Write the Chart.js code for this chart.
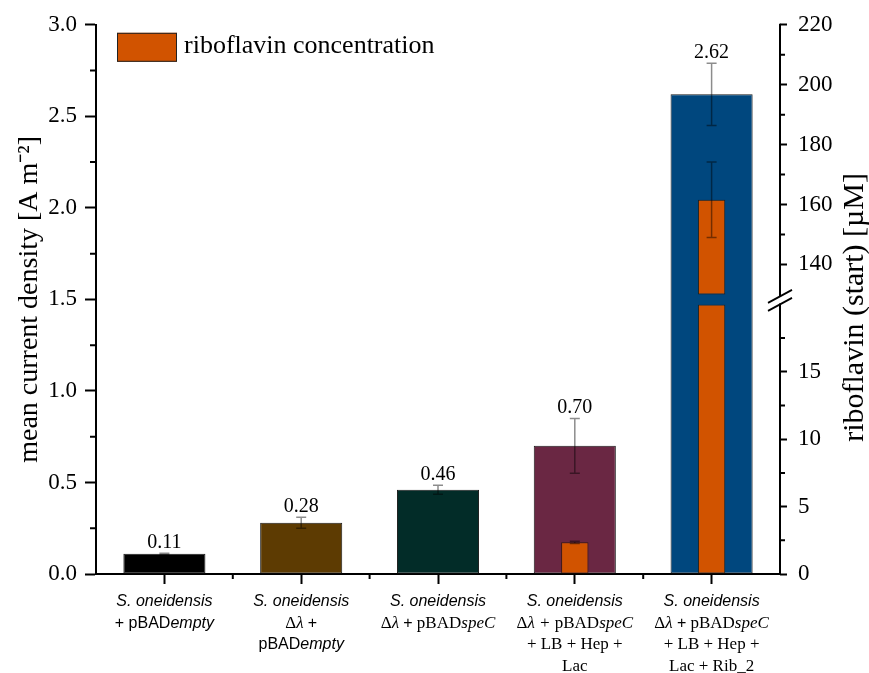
<!DOCTYPE html>
<html>
<head>
<meta charset="utf-8">
<title>Mean current density and riboflavin</title>
<script src="https://cdn.jsdelivr.net/npm/chart.js@4.4.1/dist/chart.umd.min.js"></script>
<style>
  html, body { margin: 0; background: #fff; }
  canvas { display: block; }
</style>
</head>
<body>
<canvas id="chart" width="869" height="673"></canvas>
<script>
// condition labels, one string per line: [..] = sans-serif, *..* = italic
const categories = [
  ['[*S. oneidensis*]', '[+ pBAD*empty*]'],
  ['[*S. oneidensis*]', 'Δ*λ* [+]', '[pBAD*empty*]'],
  ['[*S. oneidensis*]', 'Δ*λ* [+] pBAD*speC*'],
  ['[*S. oneidensis*]', 'Δ*λ* *+* pBAD*speC*', '+ LB + Hep +', 'Lac'],
  ['[*S. oneidensis*]', 'Δ*λ* [+] pBAD*speC*', '+ LB + Hep +', 'Lac + Rib_2']
];

const currentDensity = [0.11, 0.28, 0.46, 0.70, 2.62];
const currentError = [0.004, 0.03, 0.025, 0.15, 0.17];
const riboflavin = [null, null, null, 2.35, 161.6];
const riboflavinError = [null, null, null, 0.08, 12.6];

const currentTicks = [0, 0.5, 1, 1.5, 2, 2.5, 3];
const currentMinorTicks = [0.25, 0.75, 1.25, 1.75, 2.25, 2.75];
const ribLowTicks = [0, 5, 10, 15];
const ribLowMinorTicks = [2.5, 7.5, 12.5, 17.5];
const ribHighTicks = [140, 160, 180, 200, 220];
const ribHighMinorTicks = [150, 170, 190, 210];
const ribLowRange = [0, 20];
const ribHighRange = [130, 220];

const barColors = ['#000000', '#5d3b02', '#022c28', '#6a2743', '#00477e'];
const ribColor = '#d15300';
const serif = '"Liberation Serif", "Times New Roman", serif';
const sans = '"Liberation Sans", Arial, sans-serif';

// right axis is split: upper part (incl. the gap) and lower part share the height
const BREAK_GAP = 10;
const HIGH_WEIGHT = 280;
const LOW_WEIGHT = 270;
const ribHighMin = ribHighRange[0] - (ribHighRange[1] - ribHighRange[0]) * BREAK_GAP / (HIGH_WEIGHT - BREAK_GAP);

const ribLowBars = riboflavin.map(v => v == null ? null : [ribLowRange[0], Math.min(v, ribLowRange[1])]);
const ribHighBars = riboflavin.map(v => v != null && v > ribHighRange[0] ? [ribHighRange[0], v] : null);

function parseLine(line) {
  const segs = [];
  let isSans = false, italic = false, buf = '';
  const flush = () => { if (buf) segs.push({ text: buf, isSans, italic }); buf = ''; };
  for (const ch of line) {
    if (ch === '[') { flush(); isSans = true; }
    else if (ch === ']') { flush(); isSans = false; }
    else if (ch === '*') { flush(); italic = !italic; }
    else buf += ch;
  }
  flush();
  return segs;
}

function segFont(seg) {
  return (seg.italic ? 'italic ' : '') + (seg.isSans ? '16px ' + sans : '17px ' + serif);
}

const errorBars = {
  id: 'errorBars',
  afterDatasetsDraw(chart) {
    const { ctx, scales } = chart;
    const bar = (x, y0, y1) => {
      ctx.beginPath();
      ctx.moveTo(x, y0); ctx.lineTo(x, y1);
      ctx.moveTo(x - 5, y0); ctx.lineTo(x + 5, y0);
      ctx.moveTo(x - 5, y1); ctx.lineTo(x + 5, y1);
      ctx.stroke();
    };
    ctx.save();
    ctx.strokeStyle = 'rgba(0,0,0,0.45)';
    ctx.lineWidth = 1.5;
    riboflavin.forEach((v, i) => {
      if (v == null) return;
      const axis = v > ribHighRange[0] ? scales.yRibHigh : scales.yRibLow;
      const x = scales.x.getPixelForValue(i);
      bar(x, axis.getPixelForValue(v - riboflavinError[i]), axis.getPixelForValue(v + riboflavinError[i]));
    });
    ctx.fillStyle = '#000';
    ctx.font = '20px ' + serif;
    ctx.textAlign = 'center';
    ctx.textBaseline = 'alphabetic';
    currentDensity.forEach((v, i) => {
      const x = scales.x.getPixelForValue(i);
      const top = scales.y.getPixelForValue(v + currentError[i]);
      bar(x, scales.y.getPixelForValue(v - currentError[i]), top);
      ctx.fillText(v.toFixed(2), x, top - 5);
    });
    ctx.restore();
  }
};

const decorations = {
  id: 'decorations',
  afterDraw(chart) {
    const { ctx, scales, chartArea } = chart;
    const { x, y, yRibLow, yRibHigh } = scales;
    ctx.save();
    ctx.strokeStyle = '#000';
    ctx.lineWidth = 2;

    // minor ticks
    ctx.beginPath();
    currentMinorTicks.forEach(v => {
      const py = y.getPixelForValue(v);
      ctx.moveTo(chartArea.left - 6, py); ctx.lineTo(chartArea.left, py);
    });
    ribLowMinorTicks.forEach(v => {
      const py = yRibLow.getPixelForValue(v);
      ctx.moveTo(chartArea.right, py); ctx.lineTo(chartArea.right + 5, py);
    });
    ribHighMinorTicks.forEach(v => {
      const py = yRibHigh.getPixelForValue(v);
      ctx.moveTo(chartArea.right, py); ctx.lineTo(chartArea.right + 5, py);
    });
    for (let i = 0; i < categories.length - 1; i++) {
      const px = (x.getPixelForValue(i) + x.getPixelForValue(i + 1)) / 2;
      ctx.moveTo(px, chartArea.bottom); ctx.lineTo(px, chartArea.bottom + 5);
    }
    ctx.stroke();

    // broken right axis line
    const highBottom = yRibHigh.getPixelForValue(ribHighRange[0]);
    const lowTop = yRibLow.getPixelForValue(ribLowRange[1]);
    ctx.beginPath();
    ctx.moveTo(chartArea.right, yRibHigh.getPixelForValue(ribHighRange[1]) - 1);
    ctx.lineTo(chartArea.right, highBottom + 2);
    ctx.moveTo(chartArea.right, lowTop - 1);
    ctx.lineTo(chartArea.right, yRibLow.getPixelForValue(ribLowRange[0]) + 1);
    ctx.stroke();
    ctx.lineWidth = 1.8;
    ctx.beginPath();
    [highBottom + 2, lowTop].forEach(py => {
      ctx.moveTo(chartArea.right - 12, py + 6.5);
      ctx.lineTo(chartArea.right + 12, py - 6.5);
    });
    ctx.stroke();

    // right axis title, reading upwards
    ctx.fillStyle = '#000';
    ctx.save();
    ctx.translate(chart.width - 14, (chartArea.top + chartArea.bottom) / 2 + 8);
    ctx.rotate(-Math.PI / 2);
    ctx.font = '30px ' + serif;
    ctx.textAlign = 'center';
    ctx.textBaseline = 'middle';
    ctx.fillText('riboflavin (start) [µM]', 0, 0);
    ctx.restore();

    // legend
    const ds = chart.data.datasets[0];
    const bx = chartArea.left + 21, by = chartArea.top + 8;
    ctx.fillStyle = ds.backgroundColor;
    ctx.fillRect(bx, by, 60, 29);
    ctx.lineWidth = 1;
    ctx.strokeStyle = '#222';
    ctx.strokeRect(bx + 0.5, by + 0.5, 59, 28);
    ctx.fillStyle = '#000';
    ctx.font = '26px ' + serif;
    ctx.textAlign = 'left';
    ctx.textBaseline = 'middle';
    ctx.fillText(ds.label, bx + 67, by + 13);

    // category labels
    ctx.textBaseline = 'middle';
    categories.forEach((lines, i) => {
      const cx = x.getPixelForValue(i);
      lines.forEach((line, j) => {
        const segs = parseLine(line);
        let total = 0;
        segs.forEach(s => { ctx.font = segFont(s); s.w = ctx.measureText(s.text).width; total += s.w; });
        let px = cx - total / 2;
        const py = chartArea.bottom + 28 + j * 21.5;
        segs.forEach(s => {
          ctx.font = segFont(s);
          ctx.fillText(s.text, px, py);
          px += s.w;
        });
      });
    });
    ctx.restore();
  }
};

const tickFont = { family: serif, size: 23 };

new Chart(document.getElementById('chart'), {
  type: 'bar',
  data: {
    labels: categories,
    datasets: [
      {
        label: 'riboflavin concentration',
        data: ribHighBars,
        yAxisID: 'yRibHigh',
        backgroundColor: ribColor,
        borderColor: 'rgba(40,20,0,0.75)',
        borderWidth: 1,
        borderSkipped: false,
        barPercentage: 0.2,
        categoryPercentage: 1,
        grouped: false,
        order: 1
      },
      {
        label: 'riboflavin concentration (low)',
        data: ribLowBars,
        yAxisID: 'yRibLow',
        backgroundColor: ribColor,
        borderColor: 'rgba(40,20,0,0.75)',
        borderWidth: 1,
        borderSkipped: false,
        barPercentage: 0.2,
        categoryPercentage: 1,
        grouped: false,
        order: 1
      },
      {
        label: 'mean current density',
        data: currentDensity,
        yAxisID: 'y',
        backgroundColor: barColors,
        borderColor: '#1a1a1a',
        borderWidth: 1,
        borderSkipped: false,
        barPercentage: 0.6,
        categoryPercentage: 1,
        grouped: false,
        order: 2
      }
    ]
  },
  options: {
    responsive: false,
    animation: false,
    devicePixelRatio: 1,
    layout: { padding: { top: 24, left: 0, right: 0, bottom: 0 } },
    plugins: { legend: { display: false }, tooltip: { enabled: false } },
    scales: {
      x: {
        grid: { offset: false, drawOnChartArea: false, tickLength: 10, tickWidth: 2, tickColor: '#000' },
        border: { display: true, width: 2, color: '#000' },
        ticks: { display: false },
        afterFit(scale) { scale.height = 99; }
      },
      y: {
        position: 'left',
        min: currentTicks[0],
        max: currentTicks[currentTicks.length - 1],
        afterBuildTicks(scale) { scale.ticks = currentTicks.map(value => ({ value })); },
        grid: { drawOnChartArea: false, tickLength: 11, tickWidth: 2, tickColor: '#000' },
        border: { display: true, width: 2, color: '#000' },
        ticks: { font: tickFont, color: '#000', padding: 8, callback: v => Number(v).toFixed(1) },
        title: {
          display: true,
          text: 'mean current density [A m⁻²]',
          color: '#000',
          font: { family: serif, size: 28 },
          padding: { top: 13, bottom: 0 }
        },
        afterFit(scale) { scale.width = 96; }
      },
      yRibHigh: {
        position: 'right',
        stack: 'riboflavin',
        stackWeight: HIGH_WEIGHT,
        min: ribHighMin,
        max: ribHighRange[1],
        afterBuildTicks(scale) { scale.ticks = ribHighTicks.map(value => ({ value })); },
        grid: { drawOnChartArea: false, tickLength: 7, tickWidth: 2, tickColor: '#000' },
        border: { display: false },
        ticks: { font: tickFont, color: '#000', padding: 11, callback: v => String(v) },
        afterFit(scale) { scale.width = 89; }
      },
      yRibLow: {
        position: 'right',
        stack: 'riboflavin',
        stackWeight: LOW_WEIGHT,
        min: ribLowRange[0],
        max: ribLowRange[1],
        afterBuildTicks(scale) { scale.ticks = ribLowTicks.map(value => ({ value })); },
        grid: { drawOnChartArea: false, tickLength: 7, tickWidth: 2, tickColor: '#000' },
        border: { display: false },
        ticks: { font: tickFont, color: '#000', padding: 11, callback: v => String(v) },
        afterFit(scale) { scale.width = 89; }
      }
    }
  },
  plugins: [errorBars, decorations]
});
</script>
</body>
</html>
